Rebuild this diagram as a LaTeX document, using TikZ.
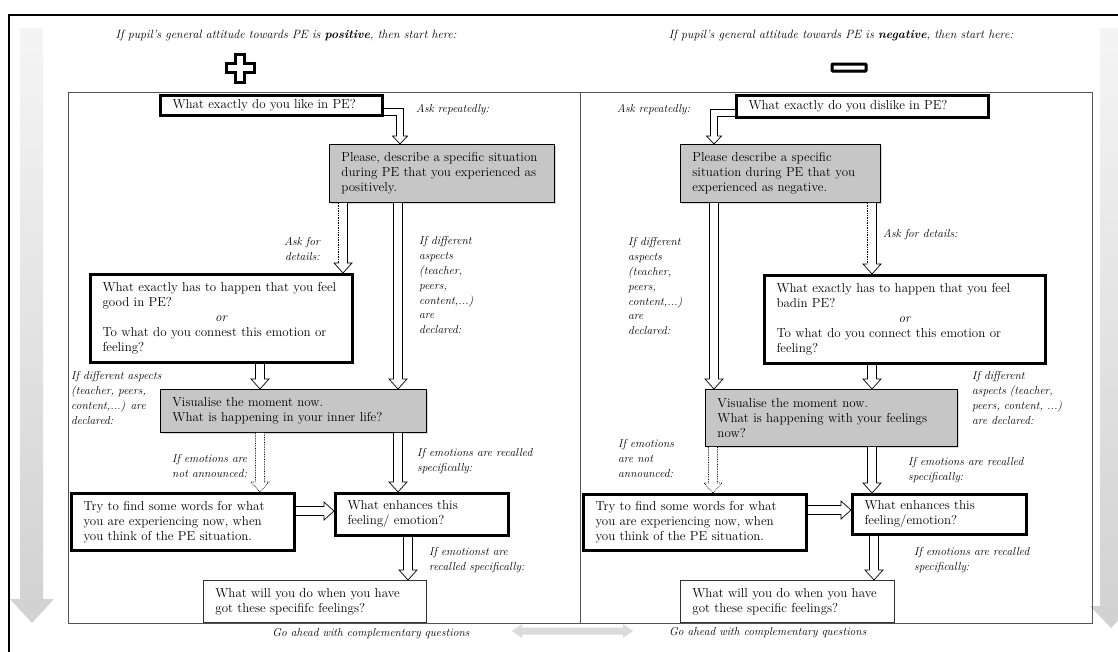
\documentclass[tikz,border=0pt]{standalone}
\usetikzlibrary{calc,shadows}

\tikzset{
  box/.style={draw=black, anchor=north west, align=left, inner xsep=12pt, inner ysep=2pt,
    font=\fontsize{13}{15}\selectfont},
  thickbox/.style={box, line width=3pt, fill=white,
    drop shadow={shadow xshift=1.5pt, shadow yshift=-1.5pt, opacity=0.3}},
  graybox/.style={box, line width=0.9pt, fill=gray!45,
    drop shadow={shadow xshift=1.5pt, shadow yshift=-1.5pt, opacity=0.3}},
  thinbox/.style={box, line width=0.8pt, draw=gray!40!black, fill=white},
  lbl/.style={anchor=north west, align=left, inner sep=0pt,
    font=\fontsize{11.5}{14.8}\selectfont\itshape},
  toplbl/.style={lbl, anchor=center, align=center, font=\fontsize{12}{14.8}\selectfont\itshape},
  harrow/.style={draw=black, line width=0.7pt, fill=white, line join=miter},
  panel/.style={draw=gray!65!black, line width=0.8pt},
  bigarrow/.style={top color=gray!8, bottom color=gray!36},
  sign/.style={draw=black, line width=3pt, fill=white, line join=miter,
    drop shadow={shadow xshift=1.5pt, shadow yshift=-1.5pt, opacity=0.35}},
}
\newcommand{\aw}{4.5pt}% shaft half width
\newcommand{\ahw}{9pt}% head half width
\newcommand{\ahl}{10pt}% head length

% hollow vertical arrow (downwards)
\newcommand{\arV}[3][]{\draw[harrow,#1] let \p1=(#2), \p2=(#3) in
  (\x1-\aw,\y1) -- (\x1-\aw,\y2+\ahl) -- (\x1-\ahw,\y2+\ahl) -- (\x1,\y2)
  -- (\x1+\ahw,\y2+\ahl) -- (\x1+\aw,\y2+\ahl) -- (\x1+\aw,\y1);}
% hollow vertical arrow with dotted left line
\newcommand{\arVD}[2]{%
  \fill[white] let \p1=(#1), \p2=(#2) in
  (\x1-\aw,\y1) -- (\x1-\aw,\y2+\ahl) -- (\x1-\ahw,\y2+\ahl) -- (\x1,\y2)
  -- (\x1+\ahw,\y2+\ahl) -- (\x1+\aw,\y2+\ahl) -- (\x1+\aw,\y1) -- cycle;
  \draw[line width=0.7pt, densely dotted] let \p1=(#1), \p2=(#2) in
  (\x1-\aw,\y1) -- (\x1-\aw,\y2+\ahl);
  \draw[line width=0.7pt, line join=miter] let \p1=(#1), \p2=(#2) in
  (\x1-\aw,\y2+\ahl) -- (\x1-\ahw,\y2+\ahl) -- (\x1,\y2)
  -- (\x1+\ahw,\y2+\ahl) -- (\x1+\aw,\y2+\ahl) -- (\x1+\aw,\y1);}
% hollow horizontal arrow (rightwards)
\newcommand{\arH}[3][]{\draw[harrow,#1] let \p1=(#2), \p2=(#3) in
  (\x1,\y1+\aw) -- (\x2-\ahl,\y1+\aw) -- (\x2-\ahl,\y1+\ahw) -- (\x2,\y1)
  -- (\x2-\ahl,\y1-\ahw) -- (\x2-\ahl,\y1-\aw) -- (\x1,\y1-\aw);}
% hollow elbow arrow: right, then down
\newcommand{\arER}[3][]{\draw[harrow,#1] let \p1=(#2), \p2=(#3) in
  (\x1,\y1+3.5pt) -- (\x2+3.5pt,\y1+3.5pt) -- (\x2+3.5pt,\y2+8pt) -- (\x2+7.5pt,\y2+8pt)
  -- (\x2,\y2) -- (\x2-7.5pt,\y2+8pt) -- (\x2-3.5pt,\y2+8pt) -- (\x2-3.5pt,\y1-3.5pt)
  -- (\x1,\y1-3.5pt);}
% hollow elbow arrow: left, then down
\newcommand{\arEL}[3][]{\draw[harrow,#1] let \p1=(#2), \p2=(#3) in
  (\x1,\y1+3.5pt) -- (\x2-3.5pt,\y1+3.5pt) -- (\x2-3.5pt,\y2+8pt) -- (\x2-7.5pt,\y2+8pt)
  -- (\x2,\y2) -- (\x2+7.5pt,\y2+8pt) -- (\x2+3.5pt,\y2+8pt) -- (\x2+3.5pt,\y1-3.5pt)
  -- (\x1,\y1-3.5pt);}
\newcommand{\orline}[1]{\makebox[#1]{\textit{or}}}

\begin{document}
\begin{tikzpicture}[x=1pt,y=-1pt]
\useasboundingbox (0,0) rectangle (1118,651);
\clip (0,0) rectangle (1118,651);
\fill[white] (0,0) rectangle (1118,651);

% big side arrows
\shade[bigarrow] (20,28) -- (43,28) -- (43,599) -- (54,599) -- (32,623) -- (10,599) -- (20,599) -- cycle;
\shade[bigarrow] (1100,28) -- (1122,28) -- (1122,606) -- (1132,606) -- (1111,628) -- (1090,606) -- (1100,606) -- cycle;

% outer frame
\draw[line width=1.4pt] (9,660) -- (9,15) -- (1130,15);

% panels
\draw[panel] (68,92) rectangle (580.7,623);
\draw[panel] (580.7,92) rectangle (1092,623);

% plus and minus signs
\begin{scope}[shift={(240,68)}]
\draw[sign] (-4.5,-14) -- (4.5,-14) -- (4.5,-4.5) -- (14,-4.5) -- (14,4.5) -- (4.5,4.5)
  -- (4.5,14) -- (-4.5,14) -- (-4.5,4.5) -- (-14,4.5) -- (-14,-4.5) -- (-4.5,-4.5) -- cycle;
\end{scope}
\draw[sign, rounded corners=0.8pt] (832,64) rectangle (866,71);

% top texts
\node[toplbl] (T1) at (286,35)
  {If pupil's general attitude towards PE is \textbf{positive}, then start here:};
\node[toplbl] (T2) at (841,35)
  {If pupil's general attitude towards PE is \textbf{negative}, then start here:};

% ---------------- left panel boxes ----------------
\node[thickbox, minimum width=222pt, minimum height=20pt, text width=198pt] (B1) at (159,94)
  {\mbox{What exactly do you like in PE?}};
\node[graybox, minimum width=225pt, minimum height=58pt, text width=201pt] (B2) at (329,144)
  {\mbox{Please, describe a specific situation}\\\mbox{during PE that you experienced as}\\\mbox{positively.}};
\node[thickbox, minimum width=262pt, minimum height=88pt, text width=238pt] (B3) at (89,273)
  {\mbox{What exactly has to happen that you feel}\\\mbox{good in PE?}\\\orline{238pt}\\\mbox{To what do you connest this emotion or}\\\mbox{feeling?}};
\node[graybox, minimum width=266pt, minimum height=43pt, text width=242pt] (B4) at (160,389)
  {\mbox{Visualise the moment now.}\\\mbox{What is happening in your inner life?}};
\node[thickbox, minimum width=223pt, minimum height=57pt, text width=199pt] (B5) at (70,492)
  {\mbox{Try to find some words for what}\\\mbox{you are experiencing now, when}\\\mbox{you think of the PE situation.}};
\node[thickbox, minimum width=173pt, minimum height=42pt, text width=149pt] (B6) at (334,492)
  {\mbox{What enhances this}\\\mbox{feeling/ emotion?}};
\node[thinbox, minimum width=223pt, minimum height=42pt, text width=199pt] (B7) at (203,580)
  {\mbox{What will you do when you have}\\\mbox{got these specififc feelings?}};

% ---------------- right panel boxes ----------------
\node[thickbox, minimum width=252pt, minimum height=22pt, text width=228pt] (R1) at (735,94)
  {\mbox{What exactly do you dislike in PE?}};
\node[graybox, minimum width=200pt, minimum height=58pt, text width=176pt] (R2) at (680,144)
  {\mbox{Please describe a specific}\\\mbox{situation during PE that you}\\\mbox{experienced as negative.}};
\node[thickbox, minimum width=281pt, minimum height=88pt, text width=257pt] (R3) at (763,274)
  {\mbox{What exactly has to happen that you feel}\\\mbox{badin PE?}\\\orline{257pt}\\\mbox{To what do you connect this emotion or}\\\mbox{feeling?}};
\node[graybox, minimum width=252pt, minimum height=57pt, text width=228pt] (R4) at (705,389)
  {\mbox{Visualise the moment now.}\\\mbox{What is happening with your feelings}\\\mbox{now?}};
\node[thickbox, minimum width=223pt, minimum height=56pt, text width=199pt] (R5) at (582,493)
  {\mbox{Try to find some words for what}\\\mbox{you are experiencing now, when}\\\mbox{you think of the PE situation.}};
\node[thickbox, minimum width=174pt, minimum height=40pt, text width=150pt] (R6) at (851,493)
  {\mbox{What enhances this}\\\mbox{feeling/emotion?}};
\node[thinbox, minimum width=214pt, minimum height=42pt, text width=190pt] (R7) at (680,580)
  {\mbox{What will you do when you have}\\\mbox{got these specific feelings?}};

% ---------------- left panel connectors ----------------
\arER{B1.east |- 0,112}{B2.north -| 400,0}
\arVD{B2.south -| 343,0}{B3.north -| 343,0}
\arV{B2.south -| 398,0}{B4.north -| 398,0}
\arV{B3.south -| 260,0}{B4.north -| 260,0}
\arV[densely dotted]{B4.south -| 260,0}{B5.north -| 260,0}
\arV{B4.south -| 398,0}{B6.north -| 398,0}
\arH{B5.east |- 0,511}{B6.west |- 0,511}
\arV{B6.south -| 408,0}{B7.north -| 408,0}

% ---------------- right panel connectors ----------------
\arEL{R1.west |- 0,113}{R2.north -| 714,0}
\arVD{R2.south -| 872,0}{R3.north -| 872,0}
\arV{R2.south -| 714,0}{R4.north -| 714,0}
\arV{R3.south -| 872,0}{R4.north -| 872,0}
\arV[densely dotted]{R4.south -| 713,0}{R5.north -| 713,0}
\arV{R4.south -| 872,0}{R6.north -| 872,0}
\arH{R5.east |- 0,510}{R6.west |- 0,510}
\arV{R6.south -| 874,0}{R7.north -| 874,0}

% ---------------- left labels ----------------
\node[lbl] (La) at (416,104.5) {Ask repeatedly:};
\node[lbl, anchor=north east, align=right] (Lb) at (320,237.5) {Ask for\\details:};
\node[lbl] (Lc) at (419,236.5) {If different\\aspects\\(teacher,\\peers,\\content,...)\\are\\declared:};
\node[lbl] (Ld) at (71,371.5) {If different aspects\\(teacher, peers,\\content,...) are\\declared:};
\node[lbl] (Le) at (172,454.5) {If emotions are\\not announced:};
\node[lbl] (Lf) at (417,448.5) {If emotions are recalled\\specifically:};
\node[lbl] (Lg) at (429,547.5) {If emotionst are\\recalled specifically:};
\node[lbl, anchor=center] (Lh) at (371,634) {Go ahead with complementary questions};

% ---------------- right labels ----------------
\node[lbl] (Ra) at (617,104.5) {Ask repeatedly:};
\node[lbl] (Rc) at (628,237.5) {If different\\aspects\\(teacher,\\peers,\\content,...)\\are\\declared:};
\node[lbl] (Rb) at (883,229.5) {Ask for details:};
\node[lbl] (Rd) at (972,371.5) {If different\\aspects (teacher,\\peers, content, ...)\\are declared:};
\node[lbl] (Re) at (618,439.5) {If emotions\\are not\\announced:};
\node[lbl] (Rf) at (908,457.5) {If emotions are recalled\\specifically:};
\node[lbl] (Rg) at (914,547.5) {If emotions are recalled\\specifically:};
\node[lbl, anchor=west] (Rh) at (669,633) {Go ahead with complementary questions};

% bottom double arrow
\fill[gray!28] (512,631) -- (522,624) -- (522,627.5) -- (623,627.5) -- (623,624) -- (633,631)
  -- (623,638) -- (623,634.5) -- (522,634.5) -- (522,638) -- cycle;
\end{tikzpicture}
\end{document}
